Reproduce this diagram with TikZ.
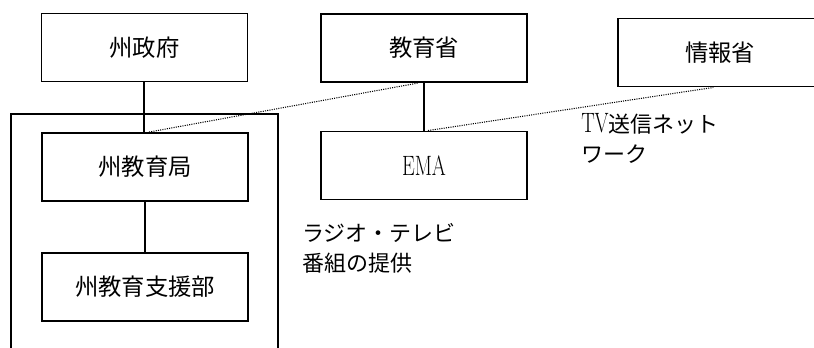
\documentclass[tikz,border=0pt]{standalone}
\usepackage{fontspec}
\newfontfamily\jp{Noto Sans CJK JP}
\begin{document}
\begin{tikzpicture}[x=0.75pt,y=-0.75pt,
  box/.style={draw,line width=1.4pt,minimum width=154.5pt,minimum height=51pt,inner sep=0pt,font=\jp\fontsize{17.5}{22}\selectfont},
  conn/.style={line width=1.4pt},
  dots/.style={line width=0.8pt,dash pattern=on 0.8pt off 0.9pt},
  lbl/.style={inner sep=0pt,align=left,anchor=west,font=\jp\fontsize{16.5}{22.5}\selectfont}]
\useasboundingbox (0,0) rectangle (814,347);
\clip (0,0) rectangle (814,347);
\node[box] (sg) at (144.5,47.5) {州政府};
\node[box] (sed) at (145,167) {州教育局};
\node[box] (sesd) at (145,287) {州教育支援部};
\node[box] (moe) at (424,48) {教育省};
\node[box] (ema) at (424,165.5) {\rmfamily\fontsize{21}{22}\selectfont\scalebox{0.72}[1]{EMA}};
\node[box,minimum width=153pt] (moi) at (720,52.5) {情報省};
\coordinate (fl) at (11,360);
\coordinate (fr) at (278,360);
\draw[conn] (fl) |- (144,114) -| (fr);
\draw[conn] (sg.south -| 144,0) -- (sed.north -| 144,0);
\draw[conn] (sed) -- (sesd);
\draw[conn] (moe) -- (ema);
\draw[dots] ([xshift=3pt]sed.north) -- ([xshift=-4pt]moe.south);
\draw[dots] ([xshift=3pt]ema.north) -- ([xshift=-5pt]moi.south);
\node[lbl] (tv) at (581,138) {{\rmfamily\fontsize{21}{22.5}\selectfont\scalebox{0.72}[1]{TV}}送信ネット\\ワーク};
\node[lbl] (radio) at (302,248) {ラジオ・テレビ\\番組の提供};
\end{tikzpicture}
\end{document}
